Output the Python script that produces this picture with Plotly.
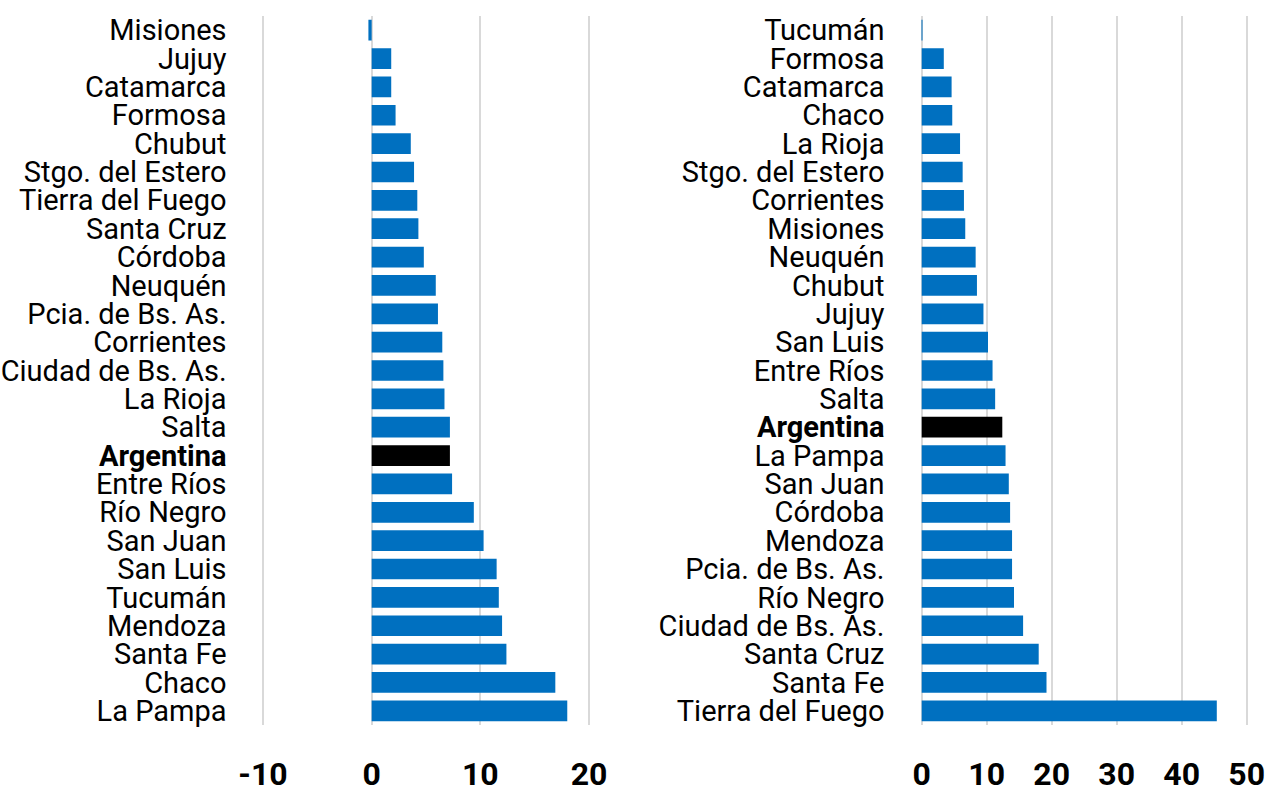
import plotly.graph_objects as go

left_cats = ["Misiones", "Jujuy", "Catamarca", "Formosa", "Chubut", "Stgo. del Estero",
             "Tierra del Fuego", "Santa Cruz", "Córdoba", "Neuquén", "Pcia. de Bs. As.",
             "Corrientes", "Ciudad de Bs. As.", "La Rioja", "Salta", "Argentina",
             "Entre Ríos", "Río Negro", "San Juan", "San Luis", "Tucumán", "Mendoza",
             "Santa Fe", "Chaco", "La Pampa"]
left_vals = [-0.3, 1.8, 1.8, 2.2, 3.6, 3.9, 4.2, 4.3, 4.8, 5.9, 6.1, 6.5, 6.6, 6.7,
             7.2, 7.2, 7.4, 9.4, 10.3, 11.5, 11.7, 12.0, 12.4, 16.9, 18.0]

right_cats = ["Tucumán", "Formosa", "Catamarca", "Chaco", "La Rioja", "Stgo. del Estero",
              "Corrientes", "Misiones", "Neuquén", "Chubut", "Jujuy", "San Luis",
              "Entre Ríos", "Salta", "Argentina", "La Pampa", "San Juan", "Córdoba",
              "Mendoza", "Pcia. de Bs. As.", "Río Negro", "Ciudad de Bs. As.",
              "Santa Cruz", "Santa Fe", "Tierra del Fuego"]
right_vals = [0.1, 3.4, 4.6, 4.7, 5.9, 6.3, 6.5, 6.7, 8.3, 8.5, 9.5, 10.2, 10.9, 11.3,
              12.4, 12.9, 13.4, 13.6, 13.9, 13.9, 14.2, 15.6, 18.0, 19.2, 45.4]

left_ticks = [-10, 0, 10, 20]
left_ticktext = ["-10", "0", "10", "20"]
right_ticks = [0, 10, 20, 30, 40, 50]
right_ticktext = ["0", "10", "20", "30", "40", "50"]

BLUE = "#0070C0"
HIGHLIGHT = "Argentina"
FONT = "Roboto, Liberation Sans, sans-serif"


def colors(cats):
    return ["#000000" if c == HIGHLIGHT else BLUE for c in cats]


def labels(cats):
    return [f"<b>{c}</b>" if c == HIGHLIGHT else c for c in cats]


fig = go.Figure()
fig.add_trace(go.Bar(x=left_vals, y=left_cats, orientation="h",
                     marker=dict(color=colors(left_cats), line=dict(width=0)),
                     xaxis="x", yaxis="y", showlegend=False))
fig.add_trace(go.Bar(x=right_vals, y=right_cats, orientation="h",
                     marker=dict(color=colors(right_cats), line=dict(width=0)),
                     xaxis="x2", yaxis="y2", showlegend=False))

W, H = 1268, 791
ytop, ybot = 16, 725
ydom = [1 - ybot / H, 1 - ytop / H]

# left axis: -10 at 263px, 20 at 589px ; right axis: 0 at 921.7px, 50 at 1246.7px
lpad, rpad = 0.5, 0.8
lppu = (589 - 263) / 30.0
rppu = (1246.7 - 921.7) / 50.0
ldom = [(263 - lpad * lppu) / W, (589 + lpad * lppu) / W]
rdom = [(921.7 - rpad * rppu) / W, (1246.7 + rpad * rppu) / W]

xcommon = dict(showgrid=True, gridcolor="#D9D9D9", gridwidth=2, zeroline=False,
               showline=False, ticks="", ticklabelstandoff=27, automargin=False,
               tickmode="array",
               tickfont=dict(family=FONT, size=32, color="black", weight="bold"))
ycommon = dict(showgrid=False, zeroline=False, showline=False, ticks="",
               autorange="reversed", tickmode="array", automargin=False,
               tickfont=dict(family=FONT, size=29, color="black"))

fig.update_layout(
    width=W, height=H,
    margin=dict(l=0, r=0, t=0, b=0),
    paper_bgcolor="white", plot_bgcolor="white",
    bargap=0.27,
    font=dict(family=FONT, color="black"),
    xaxis=dict(domain=ldom, range=[-10 - lpad, 20 + lpad], tickvals=left_ticks,
               ticktext=left_ticktext, anchor="y", **xcommon),
    yaxis=dict(domain=ydom, anchor="x", tickvals=left_cats, ticktext=labels(left_cats),
               ticklabelstandoff=int(36 - lpad * lppu), **ycommon),
    xaxis2=dict(domain=rdom, range=[0 - rpad, 50 + rpad], tickvals=right_ticks,
                ticktext=right_ticktext, anchor="y2", **xcommon),
    yaxis2=dict(domain=ydom, anchor="x2", tickvals=right_cats,
                ticktext=labels(right_cats),
                ticklabelstandoff=int(37 - rpad * rppu), **ycommon),
)

fig.write_html("out.html", config={"displayModeBar": False},
               post_script="document.body.style.margin='0';")
